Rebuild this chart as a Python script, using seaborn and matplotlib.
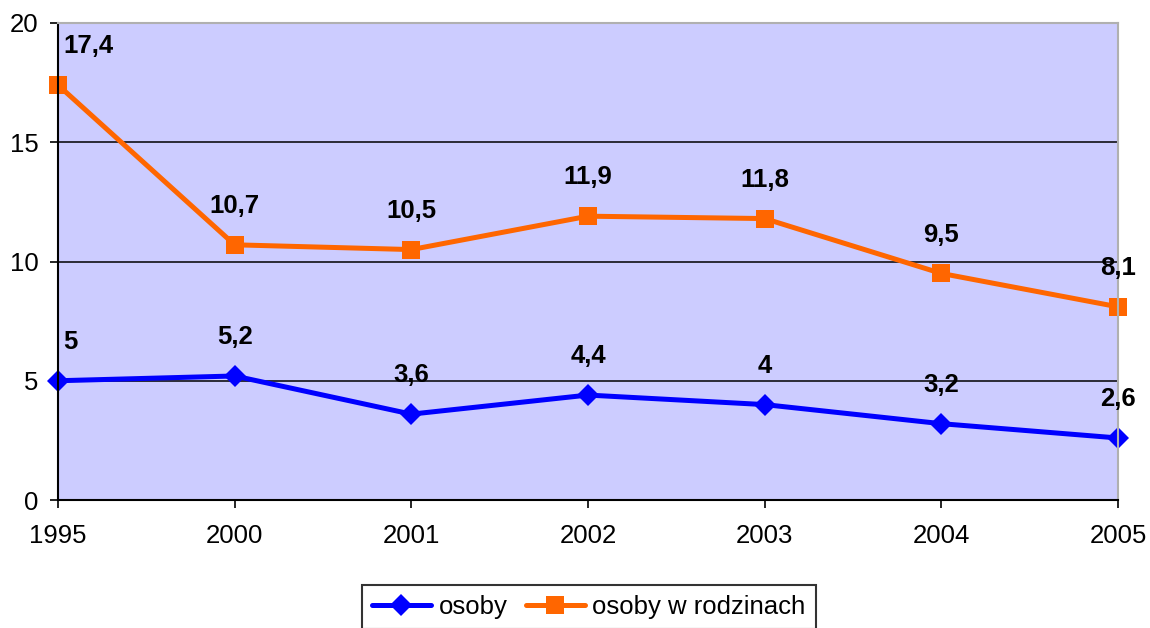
import pandas as pd
import matplotlib.pyplot as plt
import seaborn as sns

years = ["1995", "2000", "2001", "2002", "2003", "2004", "2005"]
osoby = [5, 5.2, 3.6, 4.4, 4, 3.2, 2.6]
osoby_w_rodzinach = [17.4, 10.7, 10.5, 11.9, 11.8, 9.5, 8.1]

df = pd.DataFrame({"rok": years, "osoby": osoby, "osoby w rodzinach": osoby_w_rodzinach})

sns.set_style("white")
plt.rcParams["font.family"] = ["Liberation Sans", "DejaVu Sans"]
plt.rcParams["text.color"] = "black"
plt.rcParams["xtick.color"] = "black"
plt.rcParams["ytick.color"] = "black"

fig = plt.figure(figsize=(11.5, 6.28), dpi=100)
ax = fig.add_axes([58 / 1150, 1 - 500 / 628, (1118 - 58) / 1150, (500 - 23) / 628])
ax.set_facecolor("#CCCCFF")

sns.lineplot(data=df, x="rok", y="osoby", ax=ax, color="#0000FF", lw=3.6,
             marker="D", markersize=11, markeredgewidth=0, label="osoby", clip_on=False)
sns.lineplot(data=df, x="rok", y="osoby w rodzinach", ax=ax, color="#FF6600", lw=3.6,
             marker="s", markersize=13, markeredgewidth=0, label="osoby w rodzinach", clip_on=False)

# etykiety danych
for vals in (osoby, osoby_w_rodzinach):
    for i, v in enumerate(vals):
        txt = f"{v:g}".replace(".", ",")
        if i == 0:
            ax.annotate(txt, (i, v), xytext=(4, 28), textcoords="offset points",
                        ha="left", va="center", fontsize=18.5, fontweight="bold",
                        color="black", annotation_clip=False)
        else:
            ax.annotate(txt, (i, v), xytext=(0, 28), textcoords="offset points",
                        ha="center", va="center", fontsize=18.5, fontweight="bold",
                        color="black", annotation_clip=False)

ax.set_xlim(0, 6)
ax.set_ylim(0, 20)
ax.set_yticks([0, 5, 10, 15, 20])
ax.set_xlabel("")
ax.set_ylabel("")

for y in [5, 10, 15]:
    ax.axhline(y, color="black", lw=1.1, zorder=1)

for s in ["left", "bottom"]:
    ax.spines[s].set_color("black")
    ax.spines[s].set_linewidth(1.5)
for s in ["top", "right"]:
    ax.spines[s].set_color("#B0B0B0")
    ax.spines[s].set_linewidth(1.5)

ax.tick_params(axis="both", direction="out", length=6, width=1.2, color="black",
               labelsize=18.5, labelcolor="black", left=True, bottom=True)
ax.tick_params(axis="y", pad=8)
ax.tick_params(axis="x", pad=11)

ax.legend_.remove()
h, l = ax.get_legend_handles_labels()
leg = fig.legend(h, l, loc="upper center", bbox_to_anchor=(0.512, 0.069),
                 ncol=2, frameon=True, fancybox=False, fontsize=18.5,
                 edgecolor="black", handlelength=2.3, columnspacing=0.7,
                 handletextpad=0.3, borderpad=0.4, borderaxespad=0)
leg.get_frame().set_linewidth(1.5)

fig.savefig("out.png", dpi=100)
